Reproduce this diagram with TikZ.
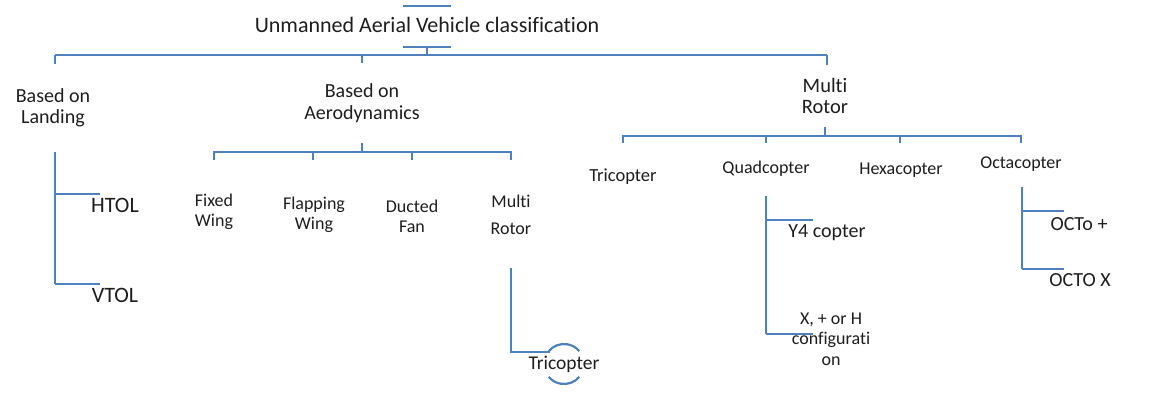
\documentclass[tikz,border=0pt]{standalone}
\usepackage{fontspec}
\setmainfont{Carlito}[Ligatures=NoCommon]
\definecolor{lineblue}{RGB}{79,129,189}
\definecolor{txt}{RGB}{30,30,30}
\tikzset{
  lbl/.style={inner sep=0pt, align=center, text=txt, font=\fontsize{#1}{#1}\selectfont},
  conn/.style={draw=lineblue, line width=2.2pt},
}
\begin{document}
\begin{tikzpicture}[x=1pt,y=-1pt]
\useasboundingbox (0,0) rectangle (1155,411);
% text nodes
\node[lbl=22] (title) at (427,25) {Unmanned Aerial Vehicle classification};
\node[lbl=20, font=\fontsize{20}{21}\selectfont] (land) at (53,107.5) {Based on\\Landing};
\node[lbl=22] (htol) at (115,205) {HTOL};
\node[lbl=22] (vtol) at (115,295) {VTOL};
\node[lbl=20, font=\fontsize{20}{22}\selectfont] (aero) at (362,103) {Based on\\Aerodynamics};
\node[lbl=18, font=\fontsize{18}{20}\selectfont] (fixed) at (214,212) {Fixed\\Wing};
\node[lbl=18, font=\fontsize{18}{20}\selectfont] (flap) at (314,215) {Flapping\\Wing};
\node[lbl=18, font=\fontsize{18}{20}\selectfont] (duct) at (412,216) {Ducted\\Fan};
\node[lbl=18, font=\fontsize{18}{27}\selectfont] (mra) at (511,214.5) {Multi\\Rotor};
\node[lbl=19.5] (tria) at (564,364) {Tricopter};
\node[lbl=20.5, font=\fontsize{20.5}{21}\selectfont] (mrr) at (825,95.5) {Multi\\Rotor};
\node[lbl=18.5] (tri) at (623,177) {Tricopter};
\node[lbl=18] (quad) at (766,169) {Quadcopter};
\node[lbl=18] (hexa) at (901,170) {Hexacopter};
\node[lbl=18] (octa) at (1021,164) {Octacopter};
\node[lbl=20] (y4) at (827,233) {Y4 copter};
\node[lbl=18, font=\fontsize{18}{20.5}\selectfont] (xh) at (831,339) {X, + or H\\configurati\\on};
\node[lbl=20] (octp) at (1079,224) {OCTo +};
\node[lbl=20] (octx) at (1080,280) {OCTO X};
% coordinates
\coordinate (tA) at (403,6); \coordinate (tB) at (451,6);
\coordinate (bA) at (403,47); \coordinate (bB) at (451,47);
\coordinate (bM) at (427,47); \coordinate (bar) at (427,55);
\coordinate (rL) at (55,55); \coordinate (rM) at (362,55); \coordinate (rR) at (827,55);
% top
\draw[conn] (tA) -- (tB);
\draw[conn] (bA) -- (bB);
\draw[conn] (bM) -- (bar);
\draw[conn] (rL) -- (rR);
\draw[conn] (rL) -- ++(0,9);
\draw[conn] (rM) -- ++(0,8);
\draw[conn] (rR) -- ++(0,10);
% landing
\coordinate (lT) at (55,152); \coordinate (lB) at (55,284);
\draw[conn] (lT) -- (lB);
\draw[conn] (55,194) -- (100,194);
\draw[conn] (lB) -- (100,284);
% aerodynamics
\coordinate (aT) at (362,143); \coordinate (aJ) at (362,152);
\draw[conn] (aT) -- (aJ);
\draw[conn] (214,152) -- (511,152);
\foreach \x in {214,313,412,511} \draw[conn] (\x,151) -- (\x,160);
\draw[conn] (511,268) -- (511,352) -- (550,352);
\draw[conn] (tria.center) ++(40:20) arc[start angle=40, end angle=140, radius=20];
\draw[conn] (tria.center) ++(220:20) arc[start angle=220, end angle=320, radius=20];
% multi rotor right
\draw[conn] (825,127) -- (825,136);
\draw[conn] (623,136) -- (1021,136);
\foreach \x in {623,766,900,1021} \draw[conn] (\x,135) -- (\x,143);
% quad
\draw[conn] (766,196) -- (766,334);
\draw[conn] (766,220) -- (813,220);
\draw[conn] (766,334) -- (813,334);
% octa
\draw[conn] (1022,187) -- (1022,269);
\draw[conn] (1022,211) -- (1064,211);
\draw[conn] (1022,269) -- (1064,269);
\end{tikzpicture}
\end{document}
